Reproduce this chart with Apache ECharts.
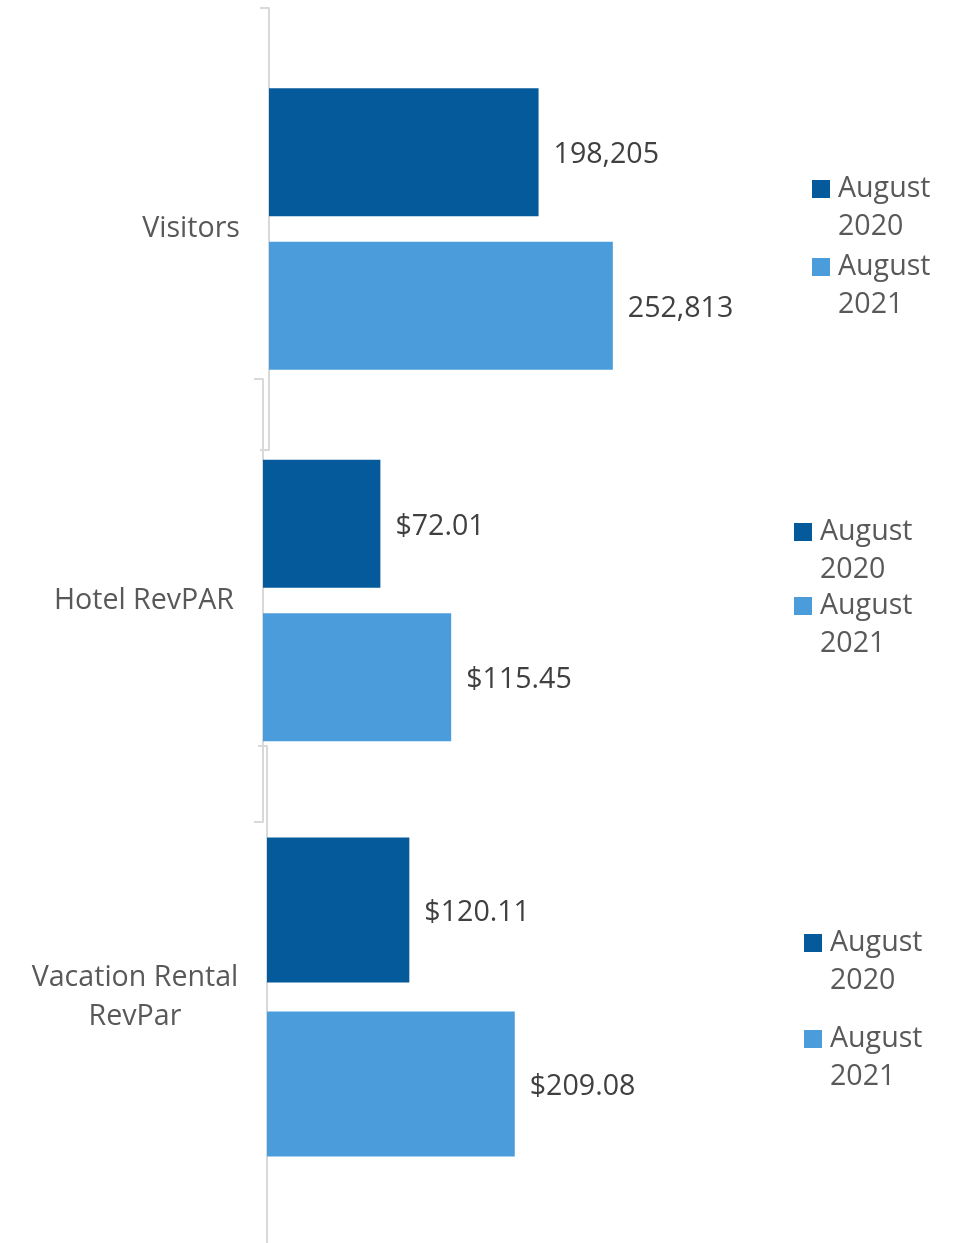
<!DOCTYPE html>
<html>
<head>
<meta charset="utf-8">
<script src="https://cdn.jsdelivr.net/npm/echarts@6/dist/echarts.min.js"></script>
<style>
html,body{margin:0;padding:0;background:#fff;}
#chart{width:958px;height:1243px;}
</style>
</head>
<body>
<div id="chart"></div>
<script>
const categories = ['Visitors', 'Hotel RevPAR', 'Vacation Rental\nRevPar'];
const seriesNames = ['August 2020', 'August 2021'];
const aug2020 = [198205, 72.01, 120.11];
const aug2021 = [252813, 115.45, 209.08];

const C2020 = '#045A9A';
const C2021 = '#4A9DDA';
const FONT = '"Open Sans", sans-serif';
const FS = 28.6;
const AXIS_COLOR = '#D9D9D9';

const panels = [
  { grid: { left: 269, top: 8, width: 680, height: 442 }, max: 500000, barWidth: 128,
    fmt: v => v.toLocaleString('en-US'), legend: { left: 812, top: 168, itemGap: -2 },
    label: { align: 'right', margin: 29 } },
  { grid: { left: 263, top: 379, width: 326, height: 443 }, max: 200, barWidth: 128,
    fmt: v => '$' + v.toFixed(2), legend: { left: 794, top: 511, itemGap: -6 },
    label: { align: 'right', margin: 29 } },
  { grid: { left: 267, top: 746, width: 474, height: 502 }, max: 400, barWidth: 145,
    fmt: v => '$' + v.toFixed(2), legend: { left: 804, top: 922, itemGap: 16 },
    label: { align: 'center', margin: 132 } }
];

const ICON = 'path://M0,0L18,0L18,0Z M0,10L18,10L18,28L0,28Z M0,76L18,76L18,76Z';

const option = {
  animation: false,
  backgroundColor: '#ffffff',
  grid: [], xAxis: [], yAxis: [], series: [], legend: []
};

panels.forEach((p, i) => {
  option.grid.push(Object.assign({ containLabel: false, outerBoundsMode: 'none' }, p.grid));
  option.xAxis.push({ type: 'value', gridIndex: i, min: 0, max: p.max, show: false });
  option.yAxis.push({
    type: 'category', gridIndex: i, data: [categories[i]],
    axisLine: { show: true, lineStyle: { color: AXIS_COLOR, width: 2 } },
    axisTick: { show: true, length: 9, lineStyle: { color: AXIS_COLOR, width: 2 } },
    axisLabel: { color: '#595959', fontSize: FS, fontFamily: FONT, lineHeight: 39,
                 align: p.label.align, margin: p.label.margin, padding: [4, 0, 0, 0] },
    splitLine: { show: false }
  });
  [aug2020, aug2021].forEach((arr, s) => {
    option.series.push({
      type: 'bar', name: seriesNames[s], xAxisIndex: i, yAxisIndex: i,
      data: [arr[i]], barWidth: p.barWidth, barGap: '20%',
      itemStyle: { color: s === 0 ? C2020 : C2021 },
      label: { show: true, position: 'right', distance: 15, offset: [0, 3], color: '#404040',
               fontSize: FS, fontFamily: FONT, formatter: prm => p.fmt(prm.value) }
    });
  });
  option.legend.push({
    data: seriesNames, orient: 'vertical', left: p.legend.left, top: p.legend.top,
    padding: 0, itemGap: p.legend.itemGap, itemWidth: 18, itemHeight: 76, icon: ICON,
    selectedMode: false,
    formatter: n => n.replace(' ', '\n'),
    textStyle: { color: '#595959', fontSize: FS, fontFamily: FONT, lineHeight: 38,
                 padding: [4, 0, 0, 3] }
  });
});

const chart = echarts.init(document.getElementById('chart'), null, { renderer: 'canvas' });
chart.setOption(option);
</script>
</body>
</html>
